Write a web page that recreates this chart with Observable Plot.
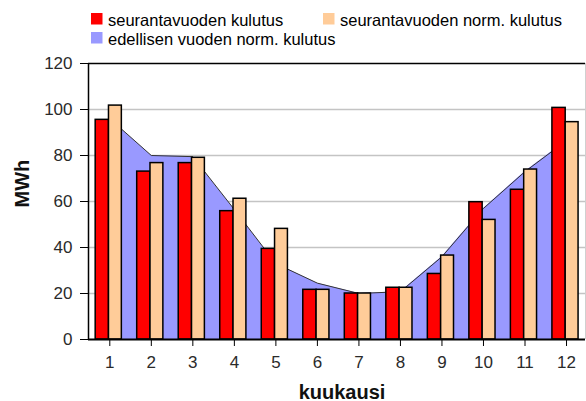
<!DOCTYPE html>
<html><head><meta charset="utf-8">
<script src="https://cdn.jsdelivr.net/npm/d3@7"></script>
<script src="https://cdn.jsdelivr.net/npm/@observablehq/plot@0.6"></script>
<style>
body{margin:0;background:#fff;}
#chart svg{display:block}
</style></head><body><div id="chart"></div>
<script>
// ---- data ----
const months = [1,2,3,4,5,6,7,8,9,10,11,12];
const kulutus = [95.5, 73, 76.7, 55.8, 39.4, 21.6, 20, 22.5, 28.5, 59.7, 65.1, 100.7];
const normKulutus = [101.7, 76.7, 79, 61.2, 48.1, 21.6, 20, 22.5, 36.5, 52, 73.9, 94.5];
const edellinenNorm = [96, 80, 79.5, 56.5, 33, 24.5, 20, 20.8, 36, 57, 73, 86.5];
const yTicks = [0, 20, 40, 60, 80, 100, 120];
const seriesNames = ["seurantavuoden kulutus", "seurantavuoden norm. kulutus", "edellisen vuoden norm. kulutus"];
const seriesColors = ["#ff0000", "#ffcc99", "#9999ff"];
const xLabel = "kuukausi";
const yLabel = "MWh";

const data = months.map((m, i) => ({month: m, cur: kulutus[i], norm: normKulutus[i], prev: edellinenNorm[i]}));
const xDomain = [0.487, 12.457];
const font = "'Liberation Sans', Arial, sans-serif";

// ---- legend ----
const chart = d3.select("#chart");
const leg = chart.append("svg").attr("width", 586).attr("height", 50)
  .style("display", "block").style("font-family", font);
const legPos = [[91, 13], [323, 13], [91, 32]];
seriesNames.forEach((name, i) => {
  const [lx, ly] = legPos[i];
  leg.append("rect").attr("x", lx).attr("y", ly).attr("width", 11.5).attr("height", 11.5).attr("fill", seriesColors[i]);
  leg.append("text").attr("x", lx + 17).attr("y", ly + 13).attr("font-size", "16.5px").attr("fill", "#000").text(name);
});

// ---- plot ----
const plot = Plot.plot({
  width: 586, height: 351,
  marginTop: 13, marginBottom: 62, marginLeft: 88, marginRight: 1,
  style: {fontFamily: font, fontSize: "17px", color: "#2a2a2a", background: "#fff", overflow: "visible"},
  x: {type: "linear", domain: xDomain},
  y: {domain: [0, 120]},
  marks: [
    Plot.gridY(yTicks.slice(1, -1), {stroke: "#c4c4c4", strokeOpacity: 1, strokeWidth: 1.5}),
    Plot.ruleX([xDomain[1]], {stroke: "#d0d0d0", strokeWidth: 1}),
    Plot.areaY(data, {x: "month", y: "prev", fill: seriesColors[2]}),
    Plot.lineY(data, {x: "month", y: "prev", stroke: "#333", strokeWidth: 1}),
    Plot.rectY(data, {x1: d => d.month - 0.34, x2: d => d.month - 0.02, y: "cur", fill: seriesColors[0], stroke: "#000", strokeWidth: 1.5}),
    Plot.rectY(data, {x1: d => d.month - 0.02, x2: d => d.month + 0.29, y: "norm", fill: seriesColors[1], stroke: "#000", strokeWidth: 1.5}),
    Plot.ruleY([yTicks[0]], {stroke: "#000", strokeWidth: 2}),
    Plot.ruleY([yTicks[yTicks.length - 1]], {stroke: "#000", strokeWidth: 1.5}),
    Plot.ruleX([xDomain[0]], {stroke: "#000", strokeWidth: 1.5}),
    Plot.axisY(yTicks, {tickSize: 8, tickPadding: 8, label: null, stroke: "#000"}),
    Plot.axisX(months, {tickSize: 7, tickPadding: 9, label: null, stroke: "#000", tickFormat: d => String(d)}),
    Plot.text([yLabel], {text: d => d, frameAnchor: "left", dx: -66, dy: 6, rotate: -90, fontWeight: "bold", fontSize: 20, fill: "#111"}),
    Plot.text([xLabel], {text: d => d, frameAnchor: "bottom", dx: 5, dy: 59, fontWeight: "bold", fontSize: 20, fill: "#111"})
  ]
});
document.getElementById("chart").appendChild(plot);
</script></body></html>
